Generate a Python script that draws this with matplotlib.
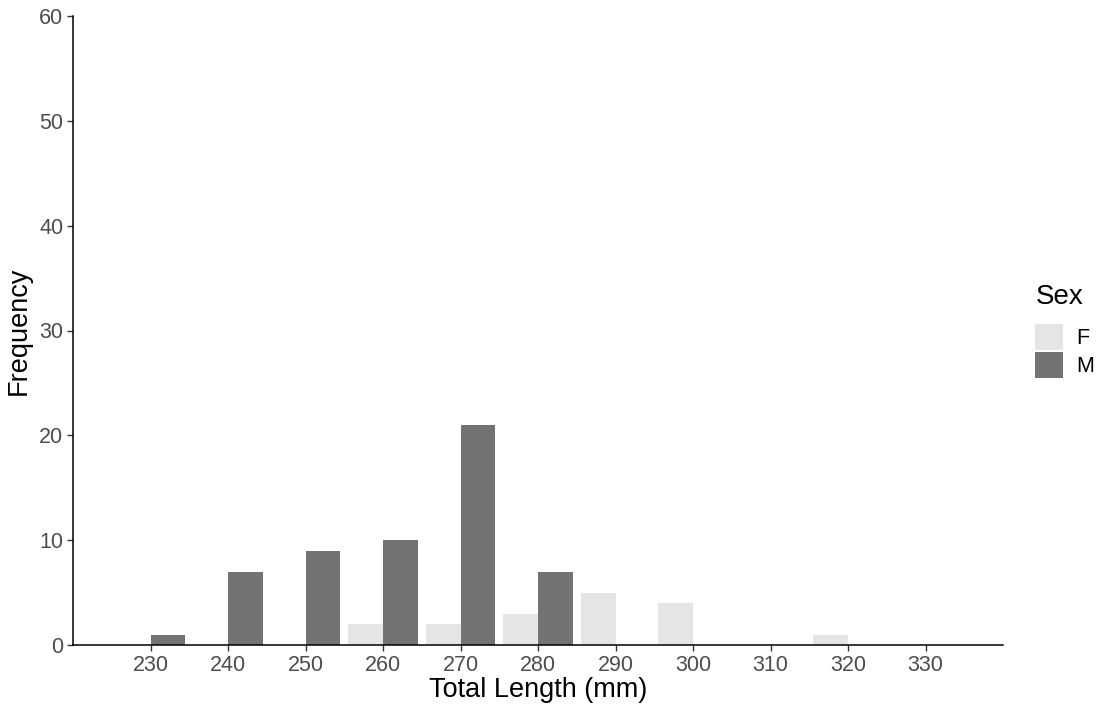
import numpy as np
import matplotlib.pyplot as plt
from matplotlib.patches import Patch

plt.rcParams['font.family'] = ['Liberation Sans', 'DejaVu Sans']

# classes de comprimento (mm) e frequências por sexo
lengths = [230, 240, 250, 260, 270, 280, 290, 300, 310, 320, 330]
freq_F = [0, 0, 0, 2, 2, 3, 5, 4, 0, 1, 0]
freq_M = [1, 7, 9, 10, 21, 7, 0, 0, 0, 0, 0]
sexes = ['F', 'M']
colors = {'F': '#e5e5e5', 'M': '#737373'}

fig = plt.figure(figsize=(11, 7.11), dpi=100)
ax = fig.add_axes([73/1100, 66/711, 930/1100, 629/711])

larg = 4.5
x = np.array(lengths, dtype=float)
ax.bar(x - larg/2, freq_F, width=larg, color=colors['F'], linewidth=0)
ax.bar(x + larg/2, freq_M, width=larg, color=colors['M'], linewidth=0)

ax.set_xlim(220, 340)
ax.set_ylim(0, 60)
ax.set_xticks(lengths)
ax.set_yticks(range(0, 61, 10))
ax.tick_params(axis='both', labelsize=15.5, labelcolor='#4d4d4d', color='#333333',
               length=4, width=1, direction='out', pad=3)

for s in ['top', 'right']:
    ax.spines[s].set_visible(False)
for s in ['left', 'bottom']:
    ax.spines[s].set_color('black')
    ax.spines[s].set_linewidth(1.1)

ax.set_xlabel('Total Length (mm)', fontsize=19.5, labelpad=1)
ax.set_ylabel('Frequency', fontsize=19.5, labelpad=5)

handles = [Patch(facecolor=colors[s], edgecolor='none', label=s) for s in sexes]
leg = fig.legend(handles=handles, title='Sex', loc='upper left',
                 bbox_to_anchor=(1031/1100, 1 - 280/711), frameon=False,
                 fontsize=15.5, title_fontsize=20, handlelength=1.3,
                 handleheight=1.5, labelspacing=0.05, handletextpad=0.6,
                 borderaxespad=0, borderpad=0.2)
leg._legend_box.align = 'left'
leg._legend_box.sep = 10

fig.savefig('out.png', dpi=100)
